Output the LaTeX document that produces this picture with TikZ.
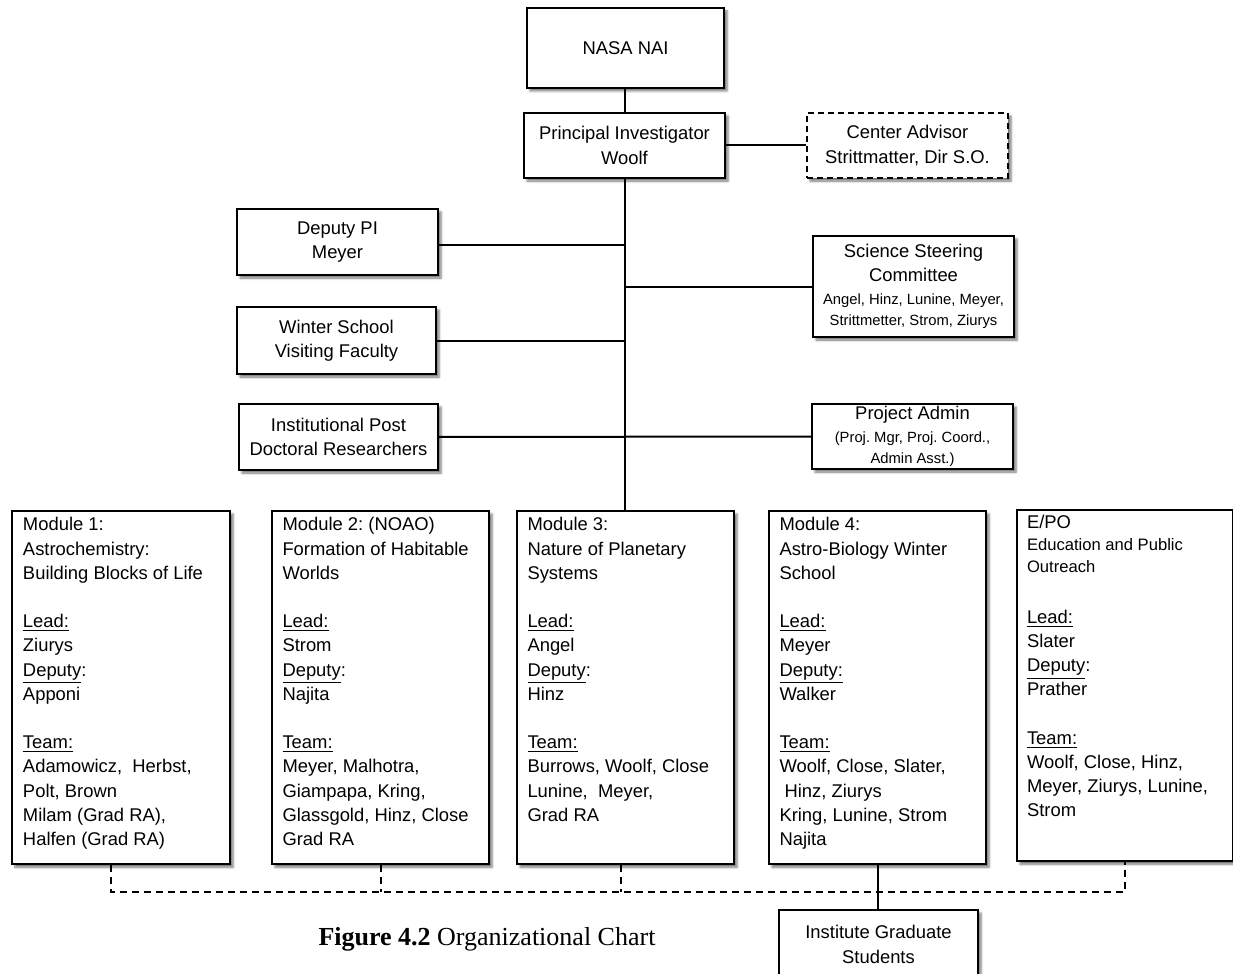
\documentclass[tikz,border=0pt]{standalone}
\usepackage{fontspec}
\setmainfont{Liberation Sans}
\newfontfamily\serifcap{Liberation Serif}
\usetikzlibrary{shadows.blur}
\frenchspacing

\newcommand{\modtext}[1]{\parbox[t][170pt][t]{98pt}{\raggedright #1}}
\newcommand{\smalltxt}{\fontsize{7.4}{10.5}\selectfont}
\newcommand{\eposmall}{\fontsize{8.3}{11}\selectfont}

\begin{document}
\begin{tikzpicture}[
  x=0.5pt, y=-0.5pt,
  font=\fontsize{9.2}{12.1}\selectfont,
  boxshadow/.style={blur shadow={shadow xshift=1.5pt, shadow yshift=-1.5pt,
    shadow blur radius=1.2pt, shadow opacity=55}},
  office/.style={draw, line width=1pt, fill=white, boxshadow, align=center,
    inner sep=0pt, anchor=north west},
  advisory/.style={office, dash pattern=on 3pt off 2pt},
  module/.style={draw, line width=1pt, fill=white, boxshadow, anchor=north west,
    inner xsep=5pt, inner ysep=3.3pt},
  reports/.style={line width=1pt},
  liaison/.style={line width=1pt, dash pattern=on 3.5pt off 2.5pt},
  figcaption/.style={font=\serifcap\fontsize{13}{15}\selectfont, anchor=base}
]
\useasboundingbox (0,0) rectangle (1233,974);

\node[office, minimum width=98.5pt, minimum height=40pt] (nasa) at (526,7) {NASA NAI};
\node[office, minimum width=100.5pt, minimum height=32.5pt] (pi) at (523,112) {Principal Investigator\\Woolf};
\node[advisory, minimum width=100.5pt, minimum height=32.5pt] (adv) at (806,112) {Center Advisor\\Strittmatter, Dir S.O.};

\node[office, minimum width=100.5pt, minimum height=33pt] (dep) at (236,208) {Deputy PI\\Meyer};
\node[office, minimum width=99.5pt, minimum height=33.5pt] (win) at (236,306) {Winter School\\Visiting Faculty};
\node[office, minimum width=99.5pt, minimum height=33pt] (post) at (238,403) {Institutional Post\\Doctoral Researchers};

\node[office, minimum width=100.5pt, minimum height=50.5pt] (ssc) at (812,235) {Science Steering\\Committee\\[-0.6pt]
  {\smalltxt Angel, Hinz, Lunine, Meyer,}\\[-1.6pt]{\smalltxt Strittmetter, Strom, Ziurys}};
\node[office, minimum width=100.5pt, minimum height=32.5pt] (adm) at (811,403) {Project Admin\\[-0.6pt]
  {\smalltxt (Proj. Mgr, Proj. Coord.,}\\[-1.6pt]{\smalltxt Admin Asst.)}};

% modules
\node[module, minimum width=109pt] (mod1) at (11,510) {\modtext{Module 1:\\Astrochemistry:\\Building Blocks of Life\\[12.1pt]
  \underline{Lead:}\\Ziurys\\\underline{Deputy}:\\Apponi\\[12.1pt]
  \underline{Team:}\\Adamowicz,\ \ Herbst,\\Polt, Brown\\Milam (Grad RA),\\Halfen (Grad RA)}};
\node[module, minimum width=108.5pt] (mod2) at (271,510) {\modtext{Module 2: (NOAO)\\Formation of Habitable\\Worlds\\[12.1pt]
  \underline{Lead:}\\Strom\\\underline{Deputy}:\\Najita\\[12.1pt]
  \underline{Team:}\\Meyer, Malhotra,\\Giampapa, Kring,\\Glassgold, Hinz, Close\\Grad RA}};
\node[module, minimum width=108.5pt] (mod3) at (516,510) {\modtext{Module 3:\\Nature of Planetary\\Systems\\[12.1pt]
  \underline{Lead:}\\Angel\\\underline{Deputy}:\\Hinz\\[12.1pt]
  \underline{Team:}\\Burrows, Woolf, Close\\Lunine,\ \ Meyer,\\Grad RA}};
\node[module, minimum width=108.5pt] (mod4) at (768,510) {\modtext{Module 4:\\Astro-Biology Winter\\School\\[12.1pt]
  \underline{Lead:}\\Meyer\\\underline{Deputy:}\\Walker\\[12.1pt]
  \underline{Team:}\\Woolf, Close, Slater,\\\ Hinz, Ziurys\\Kring, Lunine, Strom\\Najita}};
\node[module, minimum width=107.5pt, inner ysep=2.8pt] (epo) at (1016,509) {\modtext{E/PO\\[-1.1pt]
  {\eposmall Education and Public}\\[-1.1pt]{\eposmall Outreach}\\[13pt]
  \underline{Lead:}\\Slater\\\underline{Deputy}:\\Prather\\[12.1pt]
  \underline{Team:}\\Woolf, Close, Hinz,\\Meyer, Ziurys, Lunine,\\Strom}};

\node[office, minimum width=99.5pt, minimum height=34.5pt] (grad) at (778,909) {Institute Graduate\\Students};

\node[figcaption] (cap) at (487,945) {\textbf{Figure 4.2} Organizational Chart};

\draw[reports] (pi.north) -- (pi.north |- nasa.south);
\draw[reports] (pi.south) -- (pi.south |- mod3.north);
\draw[reports] (pi.east) -- (adv.west);
\draw[reports] ([yshift=-1.5pt]dep.east) -- ([yshift=-1.5pt]dep.east -| pi.south);
\draw[reports] (ssc.west) -- (ssc.west -| pi.south);
\draw[reports] (win.east) -- (win.east -| pi.south);
\draw[reports] (post.east) -- (adm.west);
\draw[reports] (mod4.south) -- (mod4.south |- grad.north);

% dashed ties between the teams
\coordinate (bus) at (0,892);
\draw[liaison] ([xshift=-5pt]mod1.south) |- (bus -| epo.south) -- (epo.south);
\draw[liaison] (mod2.south) -- (mod2.south |- bus);
\draw[liaison] ([xshift=-2.5pt]mod3.south) -- ([xshift=-2.5pt]mod3.south |- bus);

\end{tikzpicture}
\end{document}
